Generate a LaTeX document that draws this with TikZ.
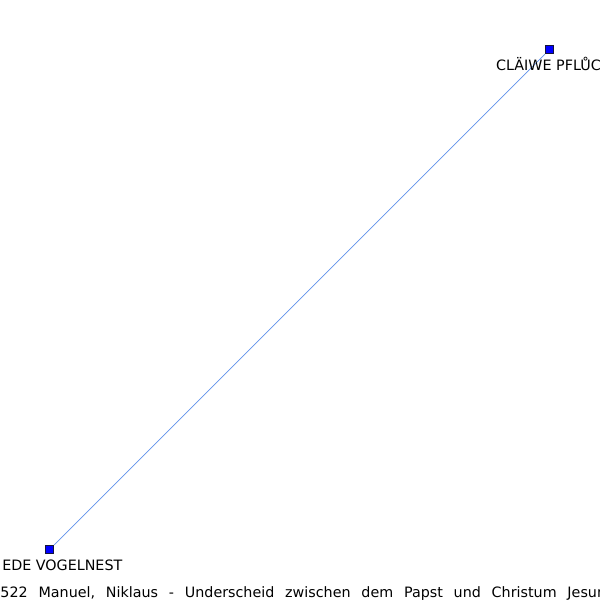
\documentclass[tikz,border=0pt]{standalone}
\usepackage{fontspec}
\setmainfont{DejaVu Sans}
\definecolor{linkblue}{RGB}{95,145,235}
\definecolor{ptblue}{RGB}{0,0,255}
\definecolor{ptedge}{RGB}{20,20,60}
\tikzset{
  pt/.style={draw=ptedge, fill=ptblue, line width=0.6pt, minimum size=8.5pt, inner sep=0pt, rectangle},
  lbl/.style={inner sep=0pt, font=\fontsize{14.3pt}{16pt}\selectfont},
  link/.style={draw=linkblue, line width=0.7pt},
}
\begin{document}
\begin{tikzpicture}[x=1pt,y=-1pt]
  \useasboundingbox (0,0) rectangle (600,600);
  \clip (0,0) rectangle (600,600);
  \node[pt] (a) at (549.5,49.5) {};
  \node[pt] (b) at (49.5,549.5) {};
  \draw[link] (b) -- (a);
  \node[lbl, anchor=base west] (la) at (496,70.5) {CLÄIWE PFLŮCK};
  \node[lbl, anchor=base east] (lb) at (122.5,570.8) {EDE VOGELNEST};
  \node[lbl, anchor=base west] (cap) at (0.3,597) {\spaceskip=10.8pt\relax 522 Manuel, Niklaus - Underscheid zwischen dem Papst und Christum Jesum};
\end{tikzpicture}
\end{document}
